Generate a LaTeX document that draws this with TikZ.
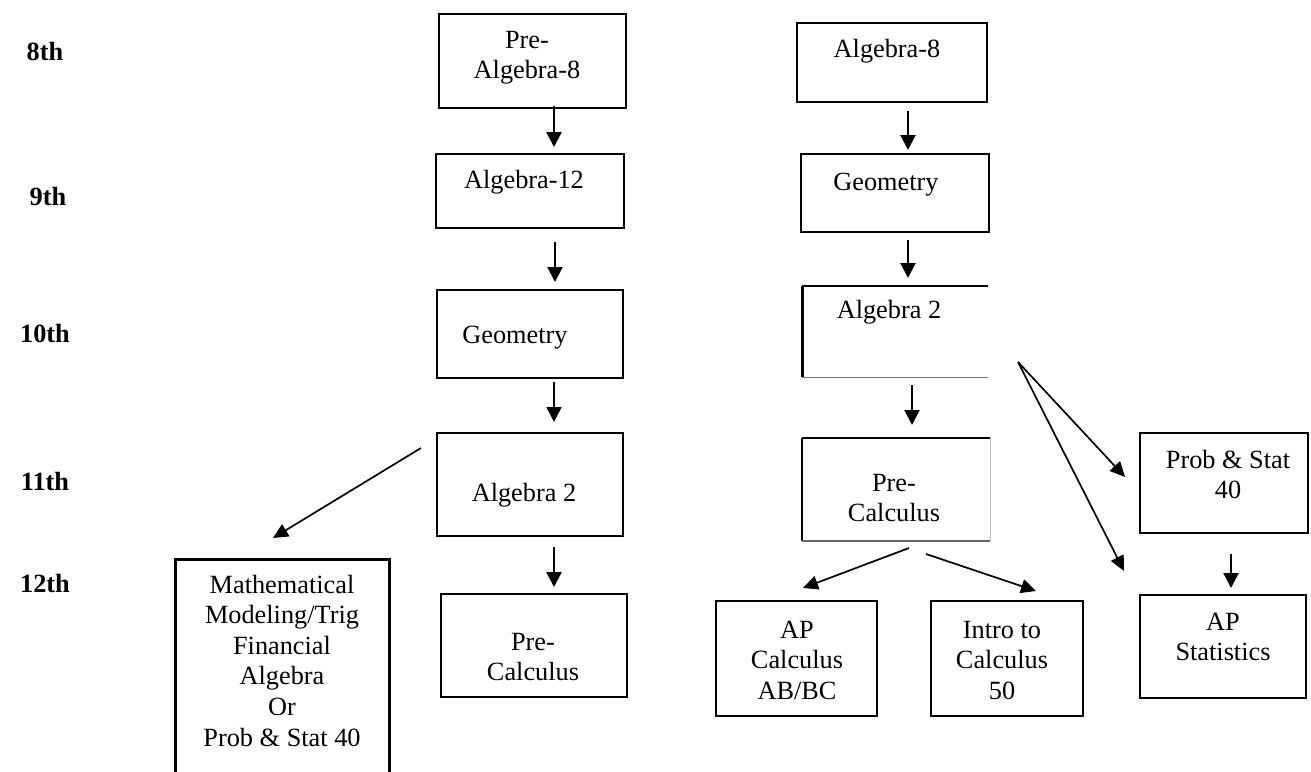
\documentclass[tikz,border=0pt]{standalone}
\usepackage{fontspec}
\setmainfont{Liberation Serif}
\usetikzlibrary{arrows.meta}
\newcommand{\tlines}[1]{\begin{tabular}[t]{@{}c@{}}#1\end{tabular}}
\begin{document}
\begin{tikzpicture}[x=1pt,y=-1pt,
  font=\fontsize{26.3pt}{30.6pt}\selectfont,
  box/.style={draw, line width=2pt, inner sep=0pt, outer sep=0pt},
  lbl/.style={anchor=base, inner sep=0pt},
  grade/.style={font=\fontsize{26.3pt}{30.6pt}\selectfont\bfseries, inner sep=0pt},
  varr/.style={line width=2.3pt, -{Triangle[length=15pt,width=15pt]}},
  darr/.style={line width=1.7pt, -{Triangle[length=15pt,width=14pt]}}]
\useasboundingbox (0,0) rectangle (1311,771);

% grade labels
\node[grade] (g8)  at (45,52)  {8th};
\node[grade] (g9)  at (48,197) {9th};
\node[grade] (g10) at (45,333) {10th};
\node[grade] (g11) at (45,481) {11th};
\node[grade] (g12) at (45,583) {12th};

% left column boxes
\node[box, minimum width=187, minimum height=94]  (pa8) at (532.5,61) {};
\node[box, minimum width=188, minimum height=74]  (a12) at (530,191) {};
\node[box, minimum width=186, minimum height=88]  (geoL) at (530,334) {};
\node[box, minimum width=186, minimum height=103] (a2L) at (530,484.5) {};
\node[box, minimum width=186, minimum height=103] (pcL) at (534,645.5) {};
\node[box, line width=3pt, minimum width=214, minimum height=231] (mm) at (282,674.5) {};

% right column boxes
\node[box, minimum width=190, minimum height=79]  (a8) at (892,62.5) {};
\node[box, minimum width=188, minimum height=78]  (geoR) at (895,193) {};
\node[box, draw=none, minimum width=186, minimum height=91] (a2R) at (895,331.5) {};
\draw[line width=2pt] (a2R.north west) -- (a2R.north east);
\draw[line width=3pt] (a2R.north west) -- (a2R.south west);
\draw[line width=1pt, black!55] (a2R.south west) -- (a2R.south east);
\node[box, draw=none, minimum width=188, minimum height=103] (pcR) at (896,489.5) {};
\draw[line width=2pt] (pcR.north west) -- (pcR.north east);
\draw[line width=2.5pt] (pcR.north west) -- (pcR.south west);
\draw[line width=1pt, black!25] (pcR.north east) -- (pcR.south east);
\draw[line width=2pt, black!60] (pcR.south west) -- (pcR.south east);
\node[box, minimum width=161, minimum height=115] (apc) at (796.5,658.5) {};
\node[box, minimum width=152, minimum height=115] (itc) at (1007,658.5) {};
\node[box, line width=2.6pt, minimum width=168, minimum height=100] (ps) at (1224,483) {};
\node[box, line width=2.4pt, minimum width=166, minimum height=103] (aps) at (1223,646.5) {};

% texts
\node[lbl] (tpa8) at (527,48)  {\tlines{Pre-\\Algebra-8}};
\node[lbl] (ta12) at (524,188) {Algebra-12};
\node[lbl] (tgeoL) at (515,343) {Geometry};
\node[lbl] (ta2L) at (524,501) {Algebra 2};
\node[lbl] (tpcL) at (533,650) {\tlines{Pre-\\Calculus}};
\node[lbl] (tmm) at (282,593) {\tlines{Mathematical\\Modeling/Trig\\Financial\\Algebra\\Or\\Prob \& Stat 40}};
\node[lbl] (ta8) at (887,57)  {Algebra-8};
\node[lbl] (tgeoR) at (886,190) {Geometry};
\node[lbl] (ta2R) at (889,318) {Algebra 2};
\node[lbl] (tpcR) at (894,491) {\tlines{Pre-\\Calculus}};
\node[lbl] (tapc) at (797,638) {\tlines{AP\\Calculus\\AB/BC}};
\node[lbl] (titc) at (1002,638) {\tlines{Intro to\\Calculus\\50}};
\node[lbl] (tps) at (1228,468) {\tlines{Prob \& Stat\\40}};
\node[lbl] (taps) at (1223,630) {\tlines{AP\\Statistics}};

% connector end points
\coordinate (l1a) at (554,106); \coordinate (l1b) at (554,147);
\coordinate (l2a) at (555,242); \coordinate (l2b) at (555,282);
\coordinate (l3a) at (554,382); \coordinate (l3b) at (554,422);
\coordinate (l4a) at (554,547); \coordinate (l4b) at (554,587);
\coordinate (lda) at (421,448); \coordinate (ldb) at (273,538);
\coordinate (r1a) at (908,111); \coordinate (r1b) at (908,150);
\coordinate (r2a) at (908,240); \coordinate (r2b) at (908,278);
\coordinate (r3a) at (912,385); \coordinate (r3b) at (912,425);
\coordinate (rda) at (1018,362);
\coordinate (rd1) at (1125,477); \coordinate (rd2) at (1124,571);
\coordinate (pc1a) at (909,548); \coordinate (pc1b) at (803,588);
\coordinate (pc2a) at (926,554); \coordinate (pc2b) at (1036,591);
\coordinate (psa) at (1231,554); \coordinate (psb) at (1231,588);

% connectors
\draw[varr] (l1a) -- (l1b);
\draw[varr] (l2a) -- (l2b);
\draw[varr, line width=1.6pt] (l3a) -- (l3b);
\draw[varr] (l4a) -- (l4b);
\draw[darr] (lda) -- (ldb);
\draw[varr] (r1a) -- (r1b);
\draw[varr] (r2a) -- (r2b);
\draw[varr] (r3a) -- (r3b);
\draw[darr] (rda) -- (rd1);
\draw[darr] (rda) -- (rd2);
\draw[darr] (pc1a) -- (pc1b);
\draw[darr] (pc2a) -- (pc2b);
\draw[varr] (psa) -- (psb);
\end{tikzpicture}
\end{document}
